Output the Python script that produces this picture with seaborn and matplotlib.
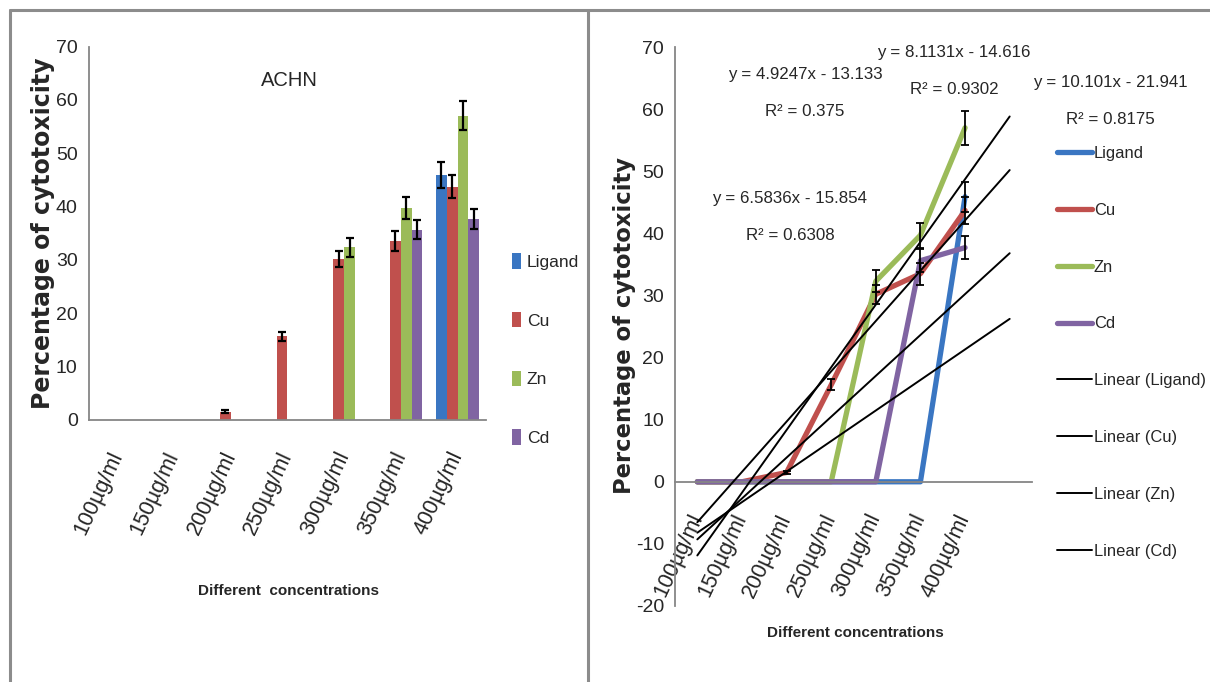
import numpy as np
import pandas as pd
import matplotlib
matplotlib.use("Agg")
import matplotlib.pyplot as plt
import seaborn as sns
from matplotlib import font_manager
from matplotlib.lines import Line2D
from matplotlib.patches import Patch

# ---------------- data ----------------
concentrations = ["100µg/ml", "150µg/ml", "200µg/ml", "250µg/ml",
                  "300µg/ml", "350µg/ml", "400µg/ml"]
series_names = ["Ligand", "Cu", "Zn", "Cd"]
ligand = [0, 0, 0, 0, 0, 0, 45.9]
cu = [0, 0, 1.5, 15.6, 30.2, 33.5, 43.7]
zn = [0, 0, 0, 0, 32.3, 39.7, 57.0]
cd = [0, 0, 0, 0, 0, 35.6, 37.7]
ligand_err = [0, 0, 0, 0, 0, 0, 2.4]
cu_err = [0, 0, 0.3, 0.9, 1.5, 1.8, 2.2]
zn_err = [0, 0, 0, 0, 1.8, 2.0, 2.7]
cd_err = [0, 0, 0, 0, 0, 1.8, 1.9]
equations = ["y = 4.9247x - 13.133", "y = 8.1131x - 14.616",
             "y = 10.101x - 21.941", "y = 6.5836x - 15.854"]
r_squared = ["R² = 0.375", "R² = 0.9302", "R² = 0.8175", "R² = 0.6308"]
title_text = "ACHN"
y_label = "Percentage of cytotoxicity"
x_label_left = "Different  concentrations"
x_label_right = "Different concentrations"

colors = ["#3a76c2", "#c0504d", "#9bbb59", "#8064a2"]
values = {"Ligand": ligand, "Cu": cu, "Zn": zn, "Cd": cd}
errors = {"Ligand": ligand_err, "Cu": cu_err, "Zn": zn_err, "Cd": cd_err}

# ---------------- style ----------------
sns.set_style("white")
available = {f.name for f in font_manager.fontManager.ttflist}
if "Liberation Sans Narrow" in available:
    base_font, k = "Liberation Sans Narrow", 1.15
else:
    base_font, k = "Liberation Sans", 1.0
plt.rcParams["font.family"] = [base_font, "DejaVu Sans"]
plt.rcParams["axes.unicode_minus"] = False

W, H = 1210, 682
fig = plt.figure(figsize=(12.1, 6.82), dpi=100)
fig.patch.set_facecolor("white")

def fx(px):
    return px / W

def fy(py):
    return 1 - py / H

spine_col = "#868686"
tick_fs = 14 * k
xtick_fs = 15.5 * k
legend_fs = 12.3 * k
eq_fs = 12.2 * k
xlabel_fs = 11.0 * k

# ---------------- long-form data ----------------
rows = []
for name in series_names:
    for i, c in enumerate(concentrations):
        rows.append({"Concentration": c, "X": i + 1, "Series": name,
                     "Value": values[name][i], "Err": errors[name][i]})
df = pd.DataFrame(rows)

# ---------------- left: bar chart ----------------
ax1 = fig.add_axes([fx(88.8), fy(419.6), fx(486 - 88.8), (419.6 - 46.5) / H])
sns.barplot(data=df, x="Concentration", y="Value", hue="Series",
            order=concentrations, hue_order=series_names, palette=colors,
            width=0.76, errorbar=None, linewidth=0, saturation=1,
            legend=False, ax=ax1)
for container, name in zip(ax1.containers, series_names):
    for bar, val, err in zip(container, values[name], errors[name]):
        if val > 0:
            ax1.errorbar(bar.get_x() + bar.get_width() / 2, val, yerr=err,
                         fmt="none", ecolor="black", elinewidth=1.6,
                         capsize=3.2, capthick=1.6, zorder=4)
ax1.set_xlim(-0.5, 6.5)
ax1.set_ylim(0, 70)
ax1.set_yticks(np.arange(0, 71, 10))
ax1.set_xticks(np.arange(-0.5, 7, 1))
ax1.set_xticklabels([])
ax1.set_xticks(np.arange(7), minor=True)
ax1.set_xticklabels(concentrations, minor=True, rotation=65, ha="right",
                    va="center", rotation_mode="anchor", fontsize=xtick_fs)
ax1.tick_params(axis="x", which="major", length=8, width=1.2, color=spine_col, direction="out")
ax1.tick_params(axis="x", which="minor", length=0, pad=24)
ax1.tick_params(axis="y", length=5, width=1.2, color=spine_col, direction="out",
                labelsize=tick_fs, pad=3)
ax1.set_xlabel("")
ax1.set_ylabel("")
for s in ["top", "right"]:
    ax1.spines[s].set_visible(False)
for s in ["left", "bottom"]:
    ax1.spines[s].set_color(spine_col)
    ax1.spines[s].set_linewidth(1.3)

fig.text(fx(289), fy(80), title_text, ha="center", va="center", fontsize=14.5 * k)
fig.text(fx(43), fy(233), y_label, rotation=90, ha="center", va="center",
         fontsize=17, fontweight="bold", family="DejaVu Sans")
fig.text(fx(288), fy(591), x_label_left, ha="center", va="center",
         fontsize=xlabel_fs, fontweight="bold")

left_handles = [Patch(facecolor=c, edgecolor="none") for c in colors]
fig.legend(left_handles, series_names, loc="upper left",
           bbox_to_anchor=(fx(512), fy(253)), frameon=False, borderpad=0,
           borderaxespad=0, handlelength=0.5, handleheight=1.0,
           handletextpad=0.35, labelspacing=2.4, fontsize=legend_fs + 0.3)

# ---------------- right: line chart ----------------
ax2 = fig.add_axes([fx(675), fy(606), fx(1032 - 675), (606 - 47) / H])
sns.lineplot(data=df, x="X", y="Value", hue="Series", hue_order=series_names,
             palette=colors, linewidth=3.8, errorbar=None, legend=False,
             solid_capstyle="round", solid_joinstyle="round", ax=ax2)
for name in series_names:
    for i, (val, err) in enumerate(zip(values[name], errors[name])):
        if val > 0:
            ax2.errorbar(i + 1, val, yerr=err, fmt="none", ecolor="black",
                         elinewidth=1.3, capsize=3, capthick=1.3, zorder=6)
xs = np.arange(1, len(concentrations) + 1)
for name in series_names:
    coef = np.polyfit(xs, values[name], 1)
    xt = np.array([1, len(concentrations) + 1])
    ax2.plot(xt, np.polyval(coef, xt), color="black", lw=1.4, zorder=5)

ax2.set_xlim(0.5, 8.5)
ax2.set_ylim(-20, 70)
ax2.set_yticks(np.arange(-20, 71, 10))
ax2.spines["bottom"].set_position(("data", 0))
ax2.set_xticks(np.arange(0.5, 9, 1))
ax2.set_xticklabels([])
ax2.set_xticks(xs, minor=True)
ax2.set_xticklabels(concentrations, minor=True, rotation=65, ha="right",
                    va="center", rotation_mode="anchor", fontsize=xtick_fs)
ax2.tick_params(axis="x", which="major", length=8, width=1.2, color=spine_col, direction="out")
ax2.tick_params(axis="x", which="minor", length=0, pad=24)
ax2.tick_params(axis="y", length=5, width=1.2, color=spine_col, direction="out",
                labelsize=tick_fs, pad=3)
ax2.set_xlabel("")
ax2.set_ylabel("")
for s in ["top", "right"]:
    ax2.spines[s].set_visible(False)
for s in ["left", "bottom"]:
    ax2.spines[s].set_color(spine_col)
    ax2.spines[s].set_linewidth(1.3)

fig.text(fx(624), fy(326), y_label, rotation=90, ha="center", va="center",
         fontsize=16.3, fontweight="bold", family="DejaVu Sans")
fig.text(fx(855), fy(633), x_label_right, ha="center", va="center",
         fontsize=xlabel_fs, fontweight="bold")

eq_pos = [(805, 74), (954, 52), (1110, 83), (790, 198)]
r2_pos = [(805, 112), (954, 89), (1110, 120), (790, 235)]
for eq, r2, p1, p2 in zip(equations, r_squared, eq_pos, r2_pos):
    fig.text(fx(p1[0]), fy(p1[1]), eq, ha="center", va="center", fontsize=eq_fs)
    fig.text(fx(p2[0]), fy(p2[1]), r2, ha="center", va="center", fontsize=eq_fs)

right_handles = [Line2D([], [], color=c, lw=3.8, solid_capstyle="round") for c in colors]
right_handles += [Line2D([], [], color="black", lw=1.4) for _ in colors]
right_labels = series_names + [f"Linear ({n})" for n in series_names]
fig.legend(right_handles, right_labels, loc="upper left",
           bbox_to_anchor=(fx(1057), fy(146)), frameon=False, borderpad=0,
           borderaxespad=0, handlelength=2.1, handletextpad=0.12,
           labelspacing=2.53, fontsize=legend_fs - 0.4)

# ---------------- panel frames ----------------
frame_col = "#8c8c8c"
fig.add_artist(Line2D([fx(10), 1], [fy(10), fy(10)], color=frame_col, lw=2.2))
fig.add_artist(Line2D([fx(10), fx(10)], [0, fy(10)], color=frame_col, lw=2.2))
fig.add_artist(Line2D([fx(588), fx(588)], [0, fy(10)], color=frame_col, lw=2.2))

fig.savefig("out.png", dpi=100)
